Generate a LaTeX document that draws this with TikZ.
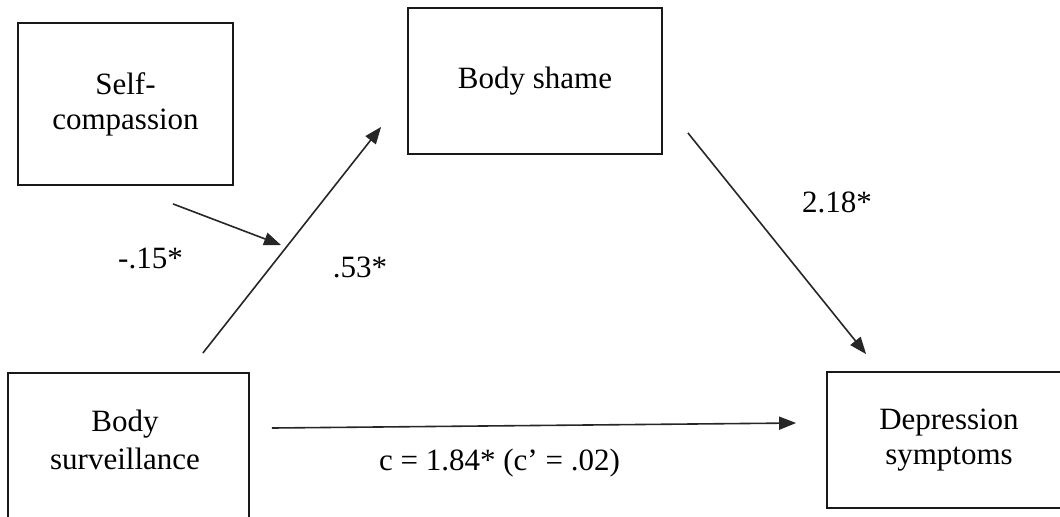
\documentclass[tikz,border=0pt]{standalone}
\usepackage{fontspec}
\setmainfont{Liberation Serif}
\usetikzlibrary{arrows.meta}

\begin{document}
\begin{tikzpicture}[x=0.5pt,y=-0.5pt,>={Triangle[length=8.5pt,width=6.5pt]},
    every node/.style={font=\fontsize{15.5}{17.5}\selectfont,text=black},
    box/.style={draw=black!90,line width=0.9pt,inner sep=0pt,align=center},
    link/.style={->,line width=0.8pt,draw=black!85},
    coef/.style={anchor=base,inner sep=0pt}]
  \useasboundingbox (0,0) rectangle (1060,516);

  % variables
  \node[box,minimum width=107.5pt,minimum height=81pt] (comp) at (125.5,104)
    {Self-\\compassion};
  \node[box,minimum width=127pt,minimum height=73pt] (shame) at (535,81)
    {Body shame};
  \node[box,minimum width=120.5pt,minimum height=74pt,anchor=north] (surv) at (128.5,372) {};
  \node[align=center,inner sep=0pt] (survtext) at (125,440)
    {Body\\[1.5pt]surveillance};
  \node[box,minimum width=122pt,minimum height=68pt] (dep) at (949,440)
    {Depression\\symptoms};

  % paths
  \coordinate (modpt) at (281,245);
  \draw[link] ([shift={(-47,-19)}]surv.north east) -- ([shift={(-26,-28)}]shame.south west);
  \draw[link] ([shift={(47.5,18)}]comp.south) -- (modpt);
  \draw[link] ([shift={(25,-22)}]shame.south east) -- ([shift={(40,-17)}]dep.north west);
  \draw[link] ([shift={(22,56)}]surv.north east) -- ([shift={(-30,-17)}]dep.west);

  % coefficients
  \node[coef] (labmod) at (150.5,268) {-.15*};
  \node[coef] (laba) at (360,277) {.53*};
  \node[coef] (labb) at (837,212) {2.18*};
  \node[coef] (labc) at (499.5,470) {c = 1.84* (c’ = .02)};
\end{tikzpicture}
\end{document}
